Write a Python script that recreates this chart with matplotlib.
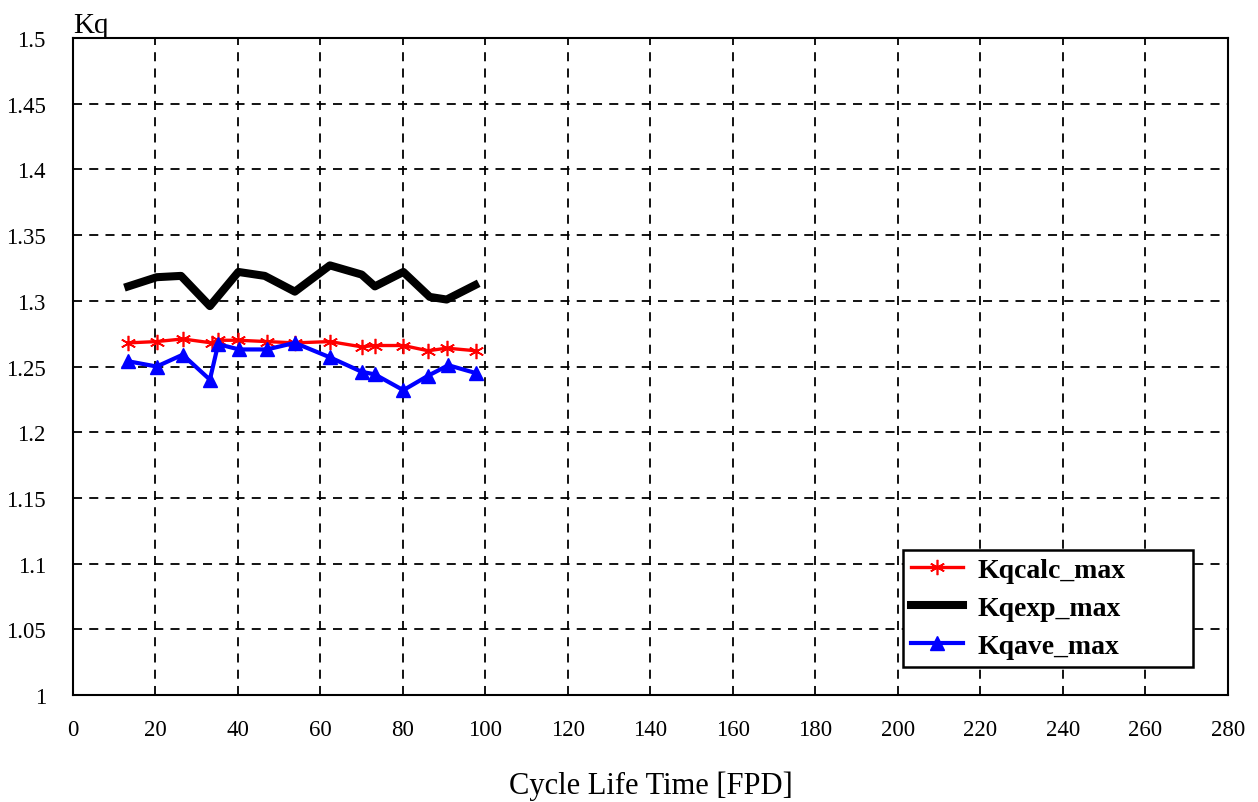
import matplotlib.pyplot as plt

plt.rcParams['font.family'] = ['Liberation Serif', 'DejaVu Serif']

# core life time points, FPD
fpd_calc = [13.4, 20.3, 26.6, 33.6, 35.2, 40.1, 47.0, 53.8, 62.3, 70.0, 73.2, 80.1, 86.1, 90.6, 97.7]
kq_calc = [1.268, 1.269, 1.271, 1.268, 1.270, 1.270, 1.269, 1.268, 1.269, 1.265, 1.266, 1.266, 1.262, 1.264, 1.262]

fpd_exp = [13.4, 20.3, 26.2, 33.2, 40.1, 46.5, 53.8, 62.3, 70.0, 73.2, 80.1, 86.5, 90.6, 97.5]
kq_exp = [1.311, 1.318, 1.319, 1.296, 1.322, 1.319, 1.307, 1.327, 1.320, 1.311, 1.322, 1.303, 1.301, 1.312]

fpd_ave = [13.4, 20.3, 26.6, 33.2, 35.2, 40.3, 47.0, 53.8, 62.3, 70.0, 73.2, 80.1, 86.1, 91.0, 97.7]
kq_ave = [1.254, 1.250, 1.259, 1.240, 1.267, 1.263, 1.263, 1.268, 1.257, 1.246, 1.244, 1.232, 1.243, 1.251, 1.245]

xticks = list(range(0, 281, 20))
yticks = [1, 1.05, 1.1, 1.15, 1.2, 1.25, 1.3, 1.35, 1.4, 1.45, 1.5]
ylabels = ['1', '1.05', '1.1', '1.15', '1.2', '1.25', '1.3', '1.35', '1.4', '1.45', '1.5']

fig = plt.figure(figsize=(12.58, 8.03), dpi=100)
ax = fig.add_axes([0.058, 0.1333, 0.918, 0.818])

ax.plot(fpd_calc, kq_calc, color='#ff0000', lw=2.4, marker=(6, 2, 0), ms=11, mew=1.2,
        label='Kqcalc_max', zorder=4)
ax.plot(fpd_exp, kq_exp, color='black', lw=5.8, label='Kqexp_max', zorder=3)
ax.plot(fpd_ave, kq_ave, color='#0000ff', lw=3, marker='^', ms=10,
        label='Kqave_max', zorder=5)

ax.set_xlim(0, 280)
ax.set_ylim(1, 1.5)
ax.set_xticks(xticks)
ax.set_yticks(yticks)
ax.set_yticklabels(ylabels)
ax.tick_params(length=0, labelsize=16.5)
ax.tick_params(axis='x', pad=17)
ax.tick_params(axis='y', pad=19.5)
ax.grid(True, color='black', ls=(0, (5, 4)), lw=1.3)
for s in ax.spines.values():
    s.set_linewidth(1.5)

ax.set_xlabel('Cycle Life Time [FPD]', fontsize=22, labelpad=22)
ax.text(0.0, 1.5, 'Kq', fontsize=21, ha='left', va='bottom')

# legend box stretched over a fixed area in the lower right
leg = ax.legend(loc='lower left', bbox_to_anchor=(0.7186, 0.0426, 0.2511, 0.178),
                mode='expand', fancybox=False, framealpha=1, edgecolor='black',
                prop={'weight': 'bold', 'size': 20}, handlelength=1.9,
                handletextpad=0.5, borderpad=0.28, labelspacing=0.46, borderaxespad=0)
leg.get_frame().set_linewidth(1.8)

fig.savefig('out.png', dpi=100)
